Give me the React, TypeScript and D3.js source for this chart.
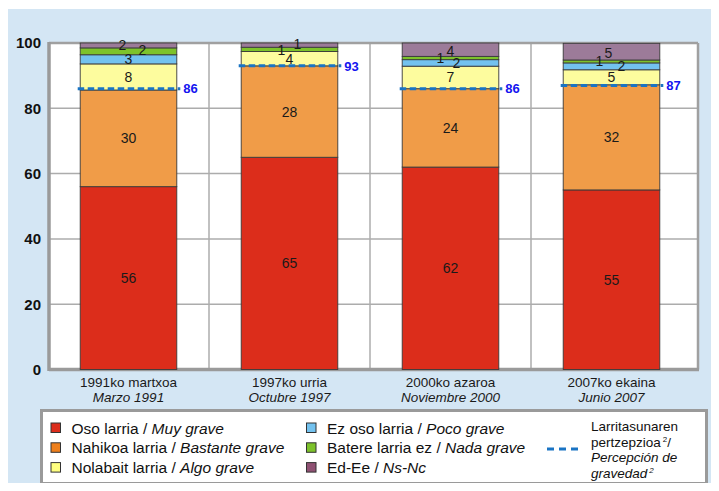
import React from "react";
import * as d3 from "d3";

const categories = ["1991", "1997", "2000", "2007"];
const catLine1 = ["1991ko martxoa", "1997ko urria", "2000ko azaroa", "2007ko ekaina"];
const catLine2 = ["Marzo 1991", "Octubre 1997", "Noviembre 2000", "Junio 2007"];

const seriesKeys = ["muy", "bastante", "algo", "poco", "nada", "nsnc"];
const muyGrave = [56, 65, 62, 55];
const bastanteGrave = [29.6, 28, 24, 32.2];
const algoGrave = [8, 4.4, 6.9, 4.6];
const pocoGrave = [2.8, 0, 2, 2.1];
const nadaGrave = [2.1, 1.3, 1, 0.9];
const nsNc = [1.5, 1.3, 4.1, 5.1];
const percepcion = [86, 93, 86, 87];
const yTicks = [0, 20, 40, 60, 80, 100];

const seriesValues: Record<string, number[]> = {
  muy: muyGrave,
  bastante: bastanteGrave,
  algo: algoGrave,
  poco: pocoGrave,
  nada: nadaGrave,
  nsnc: nsNc,
};
const barColors: Record<string, string> = {
  muy: "#dc2d1b",
  bastante: "#f09c48",
  algo: "#fdfc9e",
  poco: "#73c2ef",
  nada: "#7dc22b",
  nsnc: "#9c7b99",
};
const legendColors: Record<string, string> = {
  muy: "#dc2d1b",
  bastante: "#ee7f1c",
  algo: "#ffff80",
  poco: "#73c2ef",
  nada: "#7dc22b",
  nsnc: "#8f5173",
};

// label nudges (layout only) [dx, dy]
const labelNudge: Record<string, [number, number]> = {
  "nsnc|1991": [-6, 0],
  "nada|1991": [14, -1],
  "nsnc|1997": [8, -1],
  "nada|1997": [-8, 1],
  "nsnc|2000": [0, 1],
  "nada|2000": [-10, 0],
  "poco|2000": [6, 0],
  "nsnc|2007": [-3, 1.5],
  "nada|2007": [-12, 0],
  "poco|2007": [10, 0],
};

const FONT = "'Liberation Sans', Arial, Helvetica, sans-serif";

export default function App() {
  const W = 719;
  const H = 491;
  const plotL = 49;
  const plotR = 698;
  const y = d3.scaleLinear().domain([0, 100]).range([369.5, 43]);
  const x = d3
    .scaleBand<string>()
    .domain(categories)
    .range([48, 692])
    .paddingInner(0.4)
    .paddingOuter(0.2);
  const step = x.step();

  const rows = categories.map((c, i) => {
    const r: any = { cat: c };
    seriesKeys.forEach((k) => (r[k] = seriesValues[k][i]));
    return r;
  });
  const stacked = d3.stack<any>().keys(seriesKeys)(rows);

  const vGrid = [1, 2, 3].map((k) => 48 + step * k);

  return (
    <div style={{ margin: -8 }}>
      <svg width={W} height={H} style={{ display: "block", fontFamily: FONT }}>
        <rect x={0} y={0} width={W} height={H} fill="#ffffff" />
        <rect x={6} y={9} width={707} height={478} fill="#d4e6f4" />
        {/* plot background */}
        <rect x={plotL} y={y(100)} width={plotR - plotL} height={y(0) - y(100)} fill="#ffffff" />
        {/* gridlines */}
        {yTicks
          .filter((t) => t > 0 && t < 100)
          .map((t) => (
            <line key={"g" + t} x1={plotL} x2={plotR} y1={y(t)} y2={y(t)} stroke="#acacac" strokeWidth={1.5} />
          ))}
        {vGrid.map((gx, i) => (
          <line key={"v" + i} x1={gx} x2={gx} y1={y(100)} y2={y(0)} stroke="#acacac" strokeWidth={1.5} />
        ))}
        {/* frame */}
        <line x1={plotL} x2={plotR} y1={y(100)} y2={y(100)} stroke="#a0a0a0" strokeWidth={2.5} />
        <line x1={plotR} x2={plotR} y1={y(100)} y2={y(0)} stroke="#a0a0a0" strokeWidth={2.5} />
        <line x1={plotL} x2={plotL} y1={y(100) - 1} y2={y(0) + 1.5} stroke="#9a9a9a" strokeWidth={3.5} />
        <line x1={plotL} x2={plotR + 1} y1={y(0)} y2={y(0)} stroke="#9a9a9a" strokeWidth={3.5} />
        {/* y ticks */}
        {yTicks.map((t) => (
          <text
            key={"t" + t}
            x={41}
            y={y(t)}
            dy="0.36em"
            textAnchor="end"
            fontWeight="bold"
            fontSize={15}
            fill="#111"
          >
            {t}
          </text>
        ))}
        {/* bars */}
        {stacked.map((s) => (
          <g key={s.key}>
            {s.map((d, i) => {
              const c = categories[i];
              const h = y(d[0]) - y(d[1]);
              if (h <= 0) return null;
              return (
                <rect
                  key={c}
                  x={x(c)!}
                  y={y(d[1])}
                  width={x.bandwidth()}
                  height={h}
                  fill={barColors[s.key]}
                  stroke="#3a3a3a"
                  strokeWidth={0.9}
                />
              );
            })}
          </g>
        ))}
        {/* segment labels */}
        {stacked.map((s) => (
          <g key={"l" + s.key}>
            {s.map((d, i) => {
              const c = categories[i];
              const v = d[1] - d[0];
              if (v <= 0.05) return null;
              const nudge = labelNudge[s.key + "|" + c] || [0, 0];
              const cx = x(c)! + x.bandwidth() / 2 + nudge[0];
              const cy = (y(d[0]) + y(d[1])) / 2 + nudge[1];
              return (
                <text key={c} x={cx} y={cy} dy="0.36em" textAnchor="middle" fontSize={14} fill="#1a1a1a">
                  {Math.round(v)}
                </text>
              );
            })}
          </g>
        ))}
        {/* perception dashed lines */}
        {categories.map((c, i) => {
          const x0 = x(c)! - 2.5;
          const x1 = x(c)! + x.bandwidth() + 3.5;
          const yy = y(percepcion[i]);
          return (
            <g key={"p" + c}>
              <line x1={x0} x2={x1} y1={yy} y2={yy} stroke="#1a74c4" strokeWidth={3} strokeDasharray="6.5,3.5" />
              <text x={x1 + 3} y={yy} dy="0.36em" fontSize={13} fontWeight="bold" fill="#1414f0">
                {percepcion[i]}
              </text>
            </g>
          );
        })}
        {/* category labels */}
        {categories.map((c, i) => {
          const cx = x(c)! + x.bandwidth() / 2;
          return (
            <g key={"c" + c}>
              <text x={cx} y={382} dy="0.36em" textAnchor="middle" fontSize={13.5} fill="#1a1a1a">
                {catLine1[i]}
              </text>
              <text x={cx} y={397} dy="0.36em" textAnchor="middle" fontSize={13.5} fontStyle="italic" fill="#1a1a1a">
                {catLine2[i]}
              </text>
            </g>
          );
        })}
        {/* legend */}
        <rect x={41.5} y={410.5} width={665} height={73} fill="#ffffff" stroke="#9a9a9a" strokeWidth={3} />
        {[
          { k: "muy", a: "Oso larria / ", b: "Muy grave", col: 0, row: 0 },
          { k: "bastante", a: "Nahikoa larria / ", b: "Bastante grave", col: 0, row: 1 },
          { k: "algo", a: "Nolabait larria / ", b: "Algo grave", col: 0, row: 2 },
          { k: "poco", a: "Ez oso larria / ", b: "Poco grave", col: 1, row: 0 },
          { k: "nada", a: "Batere larria ez / ", b: "Nada grave", col: 1, row: 1 },
          { k: "nsnc", a: "Ed-Ee / ", b: "Ns-Nc", col: 1, row: 2 },
        ].map((it) => {
          const sx = it.col === 0 ? 51 : 306.5;
          const cy = 428 + it.row * 19.8;
          return (
            <g key={"lg" + it.k}>
              <rect x={sx} y={cy - 5} width={9.5} height={9.5} fill={legendColors[it.k]} stroke="#333" strokeWidth={1} />
              <text x={sx + 20.5} y={cy} dy="0.36em" fontSize={15.5} fill="#111">
                {it.a}
                <tspan fontStyle="italic">{it.b}</tspan>
              </text>
            </g>
          );
        })}
        <line x1={547} x2={583} y1={449} y2={449} stroke="#1a74c4" strokeWidth={3} strokeDasharray="7,5" />
        <text x={591} y={426.5} dy="0.36em" fontSize={13.5} fill="#111">
          Larritasunaren
        </text>
        <text x={591} y={442} dy="0.36em" fontSize={13.5} fill="#111">
          pertzepzioa
          <tspan fontSize={8} dy="-5" dx="2">2</tspan>
          <tspan dy="5">/</tspan>
        </text>
        <text x={591} y={457.5} dy="0.36em" fontSize={13.5} fontStyle="italic" fill="#111">
          Percepción de
        </text>
        <text x={591} y={473} dy="0.36em" fontSize={13.5} fontStyle="italic" fill="#111">
          gravedad
          <tspan fontSize={8} dy="-5" dx="2">2</tspan>
        </text>
      </svg>
    </div>
  );
}
